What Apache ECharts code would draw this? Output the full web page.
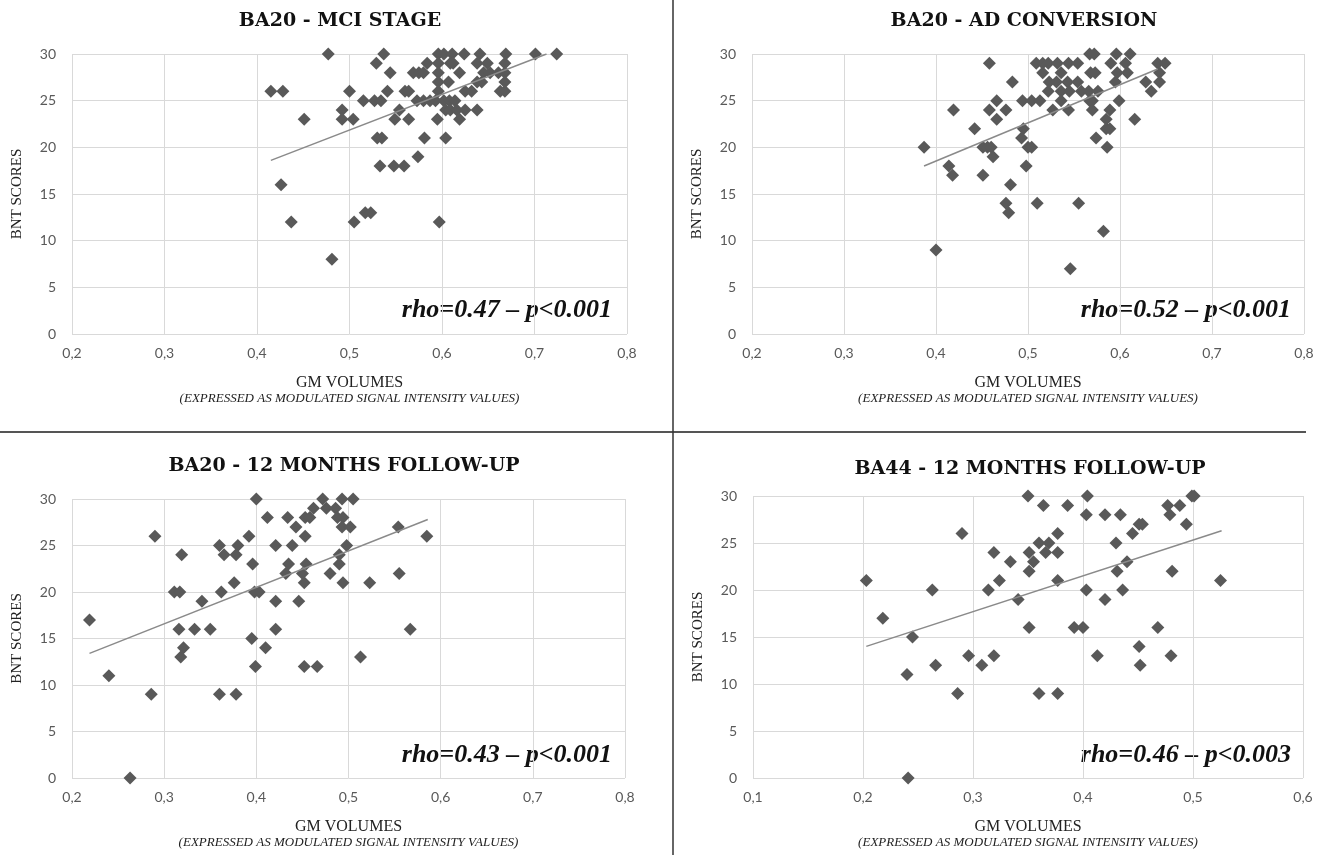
<!DOCTYPE html>
<html>
<head>
<meta charset="utf-8">
<title>BNT scores vs GM volumes</title>
<script src="https://cdn.jsdelivr.net/npm/echarts@6/dist/echarts.min.js"></script>
<style>
    html, body { margin: 0; padding: 0; background: #fff; }
    #chart { width: 1327px; height: 855px; }
</style>
</head>
<body>
<div id="chart"></div>
<script>
// BA20 - MCI stage
var mciX = [0.477, 0.537, 0.529, 0.544, 0.415, 0.428, 0.500, 0.451, 0.492, 0.492, 0.504,
    0.515, 0.527, 0.534, 0.541, 0.554, 0.549, 0.564, 0.560, 0.564, 0.569, 0.575, 0.580, 0.584,
    0.596, 0.602, 0.611, 0.596, 0.609, 0.612, 0.596, 0.596, 0.607, 0.619,
    0.624, 0.641, 0.669, 0.701, 0.724, 0.638, 0.649, 0.668, 0.645, 0.652, 0.661, 0.668,
    0.638, 0.643, 0.668, 0.625, 0.632, 0.663, 0.668, 0.596,
    0.573, 0.580, 0.587, 0.593, 0.602, 0.608, 0.614, 0.604, 0.609, 0.616, 0.625, 0.638,
    0.595, 0.619, 0.530, 0.535, 0.581, 0.604, 0.574, 0.533, 0.548, 0.559,
    0.426, 0.517, 0.523, 0.437, 0.505, 0.597, 0.481];
var mciY = [30, 30, 29, 28, 26, 26, 26, 23, 24, 23, 23,
    25, 25, 25, 26, 24, 23, 23, 26, 26, 28, 28, 28, 29,
    30, 30, 30, 29, 29, 29, 28, 27, 27, 28,
    30, 30, 30, 30, 30, 29, 29, 29, 28, 28, 28, 28,
    27, 27, 27, 26, 26, 26, 26, 26,
    25, 25, 25, 25, 25, 25, 25, 24, 24, 24, 24, 24,
    23, 23, 21, 21, 21, 21, 19, 18, 18, 18,
    16, 13, 13, 12, 12, 12, 8];
var mciTrendX = [0.415, 0.713];
var mciTrendY = [18.6, 30];

// BA20 - AD conversion
var convX = [0.387, 0.400, 0.419, 0.414, 0.418, 0.442, 0.451, 0.451, 0.456, 0.460, 0.462,
    0.458, 0.458, 0.466, 0.466, 0.476, 0.481, 0.476, 0.479, 0.483, 0.494, 0.504, 0.513,
    0.495, 0.493, 0.500, 0.504, 0.498, 0.510, 0.546, 0.555, 0.582, 0.574, 0.586, 0.585,
    0.589, 0.585, 0.589, 0.616, 0.599, 0.570, 0.570, 0.567, 0.572, 0.596, 0.611,
    0.509, 0.516, 0.522, 0.532, 0.544, 0.554, 0.516, 0.536, 0.523, 0.531, 0.543, 0.554,
    0.522, 0.536, 0.545, 0.558, 0.566, 0.576, 0.536, 0.544, 0.527, 0.567, 0.568, 0.573,
    0.590, 0.606, 0.608, 0.597, 0.595, 0.628, 0.634, 0.641, 0.649, 0.643, 0.643];
var convY = [20, 9, 24, 18, 17, 22, 17, 20, 20, 20, 19,
    29, 24, 25, 23, 24, 16, 14, 13, 27, 25, 25, 25,
    22, 21, 20, 20, 18, 14, 7, 14, 11, 21, 20, 22,
    22, 23, 24, 23, 25, 25, 24, 30, 30, 30, 30,
    29, 29, 29, 29, 29, 29, 28, 28, 27, 27, 27, 27,
    26, 26, 26, 26, 26, 26, 25, 24, 24, 25, 28, 28,
    29, 29, 28, 28, 27, 27, 26, 29, 29, 28, 27];
var convTrendX = [0.387, 0.641];
var convTrendY = [18.0, 28.4];

// BA20 - 12 months follow-up
var fu20X = [0.219, 0.240, 0.263, 0.286, 0.290, 0.319, 0.311, 0.317, 0.316, 0.321, 0.318,
    0.333, 0.350, 0.341, 0.362, 0.360, 0.380, 0.365, 0.378, 0.376, 0.392, 0.360, 0.378,
    0.396, 0.398, 0.403, 0.400, 0.395, 0.410, 0.399, 0.412, 0.421, 0.421, 0.421, 0.434,
    0.439, 0.435, 0.432, 0.443, 0.453, 0.458, 0.453, 0.450, 0.454, 0.452, 0.446, 0.452,
    0.466, 0.462, 0.472, 0.476, 0.486, 0.488, 0.494, 0.493, 0.502, 0.493, 0.505, 0.490,
    0.490, 0.480, 0.494, 0.498, 0.523, 0.554, 0.585, 0.555, 0.567, 0.513];
var fu20Y = [17, 11, 0, 9, 26, 24, 20, 20, 16, 14, 13,
    16, 16, 19, 20, 25, 25, 24, 24, 21, 26, 9, 9,
    23, 20, 20, 30, 15, 14, 12, 28, 25, 19, 16, 28,
    25, 23, 22, 27, 28, 28, 26, 22, 23, 21, 19, 12,
    12, 29, 30, 29, 29, 28, 28, 27, 27, 30, 30, 24,
    23, 22, 21, 25, 21, 27, 26, 22, 16, 13];
var fu20TrendX = [0.219, 0.586];
var fu20TrendY = [13.4, 27.8];

// BA44 - 12 months follow-up
var fu44X = [0.203, 0.218, 0.240, 0.241, 0.245, 0.263, 0.266, 0.286, 0.290, 0.296, 0.308,
    0.314, 0.319, 0.319, 0.324, 0.334, 0.341, 0.350, 0.351, 0.355, 0.351, 0.351, 0.360,
    0.377, 0.360, 0.369, 0.364, 0.366, 0.377, 0.377, 0.377, 0.386, 0.404, 0.403, 0.392,
    0.400, 0.403, 0.413, 0.420, 0.420, 0.434, 0.430, 0.431, 0.436, 0.440, 0.445, 0.451,
    0.454, 0.451, 0.452, 0.468, 0.477, 0.488, 0.479, 0.481, 0.480, 0.494, 0.499, 0.501, 0.525];
var fu44Y = [21, 17, 11, 0, 15, 20, 12, 9, 26, 13, 12,
    20, 24, 13, 21, 23, 19, 30, 24, 23, 22, 16, 9,
    9, 25, 25, 29, 24, 26, 24, 21, 29, 30, 28, 16,
    16, 20, 13, 19, 28, 28, 25, 22, 20, 23, 26, 27,
    27, 14, 12, 16, 29, 29, 28, 22, 13, 27, 30, 30, 21];
var fu44TrendX = [0.203, 0.526];
var fu44TrendY = [14.0, 26.3];

var panelTitles = ['BA20 - MCI STAGE', 'BA20 - AD CONVERSION', 'BA20 - 12 MONTHS FOLLOW-UP', 'BA44 - 12 MONTHS FOLLOW-UP'];
var rhoLabels = ['rho=0.47 \u2013 p<0.001', 'rho=0.52 \u2013 p<0.001', 'rho=0.43 \u2013 p<0.001', 'rho=0.46 \u2013 p<0.003'];
var xMins = [0.2, 0.2, 0.2, 0.1];
var xMaxs = [0.8, 0.8, 0.8, 0.6];

function pairs(xs, ys) {
    var out = [];
    for (var i = 0; i < xs.length; i++) out.push([xs[i], ys[i]]);
    return out;
}

var panels = [
    { pts: pairs(mciX, mciY), trend: pairs(mciTrendX, mciTrendY) },
    { pts: pairs(convX, convY), trend: pairs(convTrendX, convTrendY) },
    { pts: pairs(fu20X, fu20Y), trend: pairs(fu20TrendX, fu20TrendY) },
    { pts: pairs(fu44X, fu44Y), trend: pairs(fu44TrendX, fu44TrendY) }
];

// plot boxes in px
var boxes = [
    { left: 72, top: 54, width: 555, height: 280 },
    { left: 752, top: 54, width: 552, height: 280 },
    { left: 72, top: 499, width: 553, height: 279 },
    { left: 753, top: 496, width: 550, height: 282 }
];
var titlePos = [[340, 21], [1024, 21], [344, 466], [1030, 469]];
var rhoPos = [[612, 310], [1291, 310], [612, 755], [1291, 755]];

var tickColor = '#595959';
var gridColor = '#d9d9d9';
var dotColor = '#595959';

var chart = echarts.init(document.getElementById('chart'));

var grids = [], xAxes = [], yAxes = [], series = [], graphics = [];

boxes.forEach(function (b, i) {
    grids.push({ left: b.left, top: b.top, width: b.width, height: b.height, containLabel: false });
    xAxes.push({
        type: 'value', gridIndex: i, min: xMins[i], max: xMaxs[i], interval: 0.1,
        axisLine: { show: false }, axisTick: { show: false },
        splitLine: { show: true, lineStyle: { color: gridColor, width: 1 } },
        axisLabel: {
            color: tickColor, fontFamily: 'Lato', fontSize: 14, margin: 12,
            formatter: function (v) { return v.toFixed(1).replace('.', ','); }
        },
        name: '{a|GM VOLUMES}\n{b|(EXPRESSED AS MODULATED SIGNAL INTENSITY VALUES)}',
        nameLocation: 'middle', nameGap: 40,
        nameTextStyle: {
            rich: {
                a: { fontFamily: 'Liberation Serif', fontSize: 16, color: '#222', lineHeight: 17 },
                b: { fontFamily: 'Liberation Serif', fontStyle: 'italic', fontSize: 13, color: '#222', lineHeight: 16 }
            }
        }
    });
    yAxes.push({
        type: 'value', gridIndex: i, min: 0, max: 30, interval: 5,
        axisLine: { show: false }, axisTick: { show: false },
        splitLine: { show: true, lineStyle: { color: gridColor, width: 1 } },
        axisLabel: { color: tickColor, fontFamily: 'Lato', fontSize: 14, margin: 16 },
        name: 'BNT SCORES', nameLocation: 'middle', nameGap: 47, nameRotate: 90,
        nameTextStyle: { fontFamily: 'Liberation Serif', fontSize: 15, color: '#222' }
    });
    series.push({
        type: 'scatter', xAxisIndex: i, yAxisIndex: i,
        symbol: 'diamond', symbolSize: [13, 13],
        itemStyle: { color: dotColor, opacity: 1 },
        data: panels[i].pts
    });
    series.push({
        type: 'line', xAxisIndex: i, yAxisIndex: i,
        symbol: 'none', silent: true,
        lineStyle: { color: '#8a8a8a', width: 1.5 },
        data: panels[i].trend
    });
    graphics.push({
        type: 'text', x: titlePos[i][0], y: titlePos[i][1],
        style: {
            text: panelTitles[i], fill: '#111',
            font: 'bold 19px "DejaVu Serif"',
            textAlign: 'center', textVerticalAlign: 'middle',
            align: 'center', verticalAlign: 'middle'
        }
    });
    graphics.push({
        type: 'text', x: rhoPos[i][0], y: rhoPos[i][1],
        style: {
            text: rhoLabels[i], fill: '#111',
            font: 'italic bold 26px "Liberation Serif"',
            textAlign: 'right', textVerticalAlign: 'middle',
            align: 'right', verticalAlign: 'middle'
        }
    });
});

// panel dividers
graphics.push({
    type: 'line', shape: { x1: 0, y1: 432, x2: 1306, y2: 432 },
    style: { stroke: '#555', lineWidth: 2 }
});
graphics.push({
    type: 'line', shape: { x1: 673, y1: 0, x2: 673, y2: 855 },
    style: { stroke: '#333', lineWidth: 1.5 }
});

var option = {
    animation: false,
    backgroundColor: '#fff',
    grid: grids,
    xAxis: xAxes,
    yAxis: yAxes,
    series: series,
    graphic: graphics
};

chart.setOption(option);
window.addEventListener('resize', function () {
    chart.resize();
});
</script>
</body>
</html>
